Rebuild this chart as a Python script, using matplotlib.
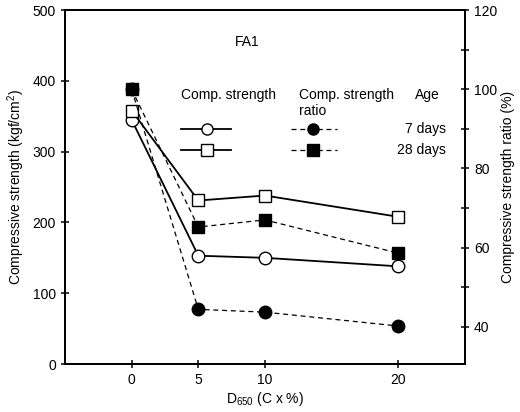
import matplotlib
matplotlib.use("Agg")
from matplotlib import pyplot as plt

plt.rcParams['font.family'] = ['Liberation Sans', 'DejaVu Sans']
plt.rcParams['font.size'] = 10

ratio_pct = [0, 5, 10, 20]
strength_7d = [345, 153, 150, 138]
strength_28d = [358, 231, 238, 208]
ratio_7d = [100, 44.4, 43.7, 40.2]
ratio_28d = [100, 65.2, 67.0, 58.6]

fig = plt.figure(figsize=(5.2, 4.12), dpi=100)
ax = fig.add_axes([0.125, 0.1165, 0.769, 0.859])
ax2 = ax.twinx()

ax.plot(ratio_pct, strength_7d, '-o', color='black', lw=1.3, mfc='white', ms=9, mew=1.0, zorder=3)
ax.plot(ratio_pct, strength_28d, '-s', color='black', lw=1.3, mfc='white', ms=9, mew=1.0, zorder=3)
ax2.plot(ratio_pct, ratio_7d, '--o', color='black', lw=0.9, mfc='black', ms=9, dashes=(4, 3))
ax2.plot(ratio_pct, ratio_28d, '--s', color='black', lw=0.9, mfc='black', ms=9, dashes=(4, 3))

ax.set_xlim(-5, 25)
ax.set_ylim(0, 500)
ax.set_xticks(ratio_pct)
ax.set_yticks([0, 100, 200, 300, 400, 500])
ax2.set_ylim(30.6, 120)
ax2.set_yticks([40, 60, 80, 100, 120])
ax2.set_yticks([50, 70, 90, 110], minor=True)

for a in (ax, ax2):
    for s in a.spines.values():
        s.set_linewidth(1.3)
ax.tick_params(axis='both', direction='inout', length=6, width=1.1)
ax2.tick_params(axis='y', which='both', direction='inout', length=6, width=1.1)

ax.set_xlabel('D$_{\\mathregular{650}}$ (C x %)', labelpad=2)
ax.set_ylabel('Compressive strength (kgf/cm$^{\\mathregular{2}}$)')
ax2.set_ylabel('Compressive strength ratio (%)', rotation=90, labelpad=3)

ax.text(8.7, 455, 'FA1', ha='center', va='center')

# custom legend
tr = ax.transAxes
ax.text(0.29, 0.76, 'Comp. strength', transform=tr, ha='left', va='center')
ax.text(0.585, 0.76, 'Comp. strength', transform=tr, ha='left', va='center')
ax.text(0.585, 0.715, 'ratio', transform=tr, ha='left', va='center')
ax.text(0.875, 0.76, 'Age', transform=tr, ha='left', va='center')
rows = [(0.665, 'o', '7 days'), (0.605, 's', '28 days')]
for y, m, lab in rows:
    ax.plot([0.29, 0.415], [y, y], '-', color='black', lw=1.3, transform=tr, clip_on=False)
    ax.plot([0.355], [y], m, color='black', mfc='white', ms=8, transform=tr, clip_on=False)
    ax.plot([0.565, 0.68], [y, y], '--', color='black', lw=0.9, dashes=(4, 3), transform=tr, clip_on=False)
    ax.plot([0.62], [y], m, color='black', mfc='black', ms=8, transform=tr, clip_on=False)
    ax.text(0.952, y, lab, transform=tr, ha='right', va='center')

fig.savefig('out.png', dpi=100)
